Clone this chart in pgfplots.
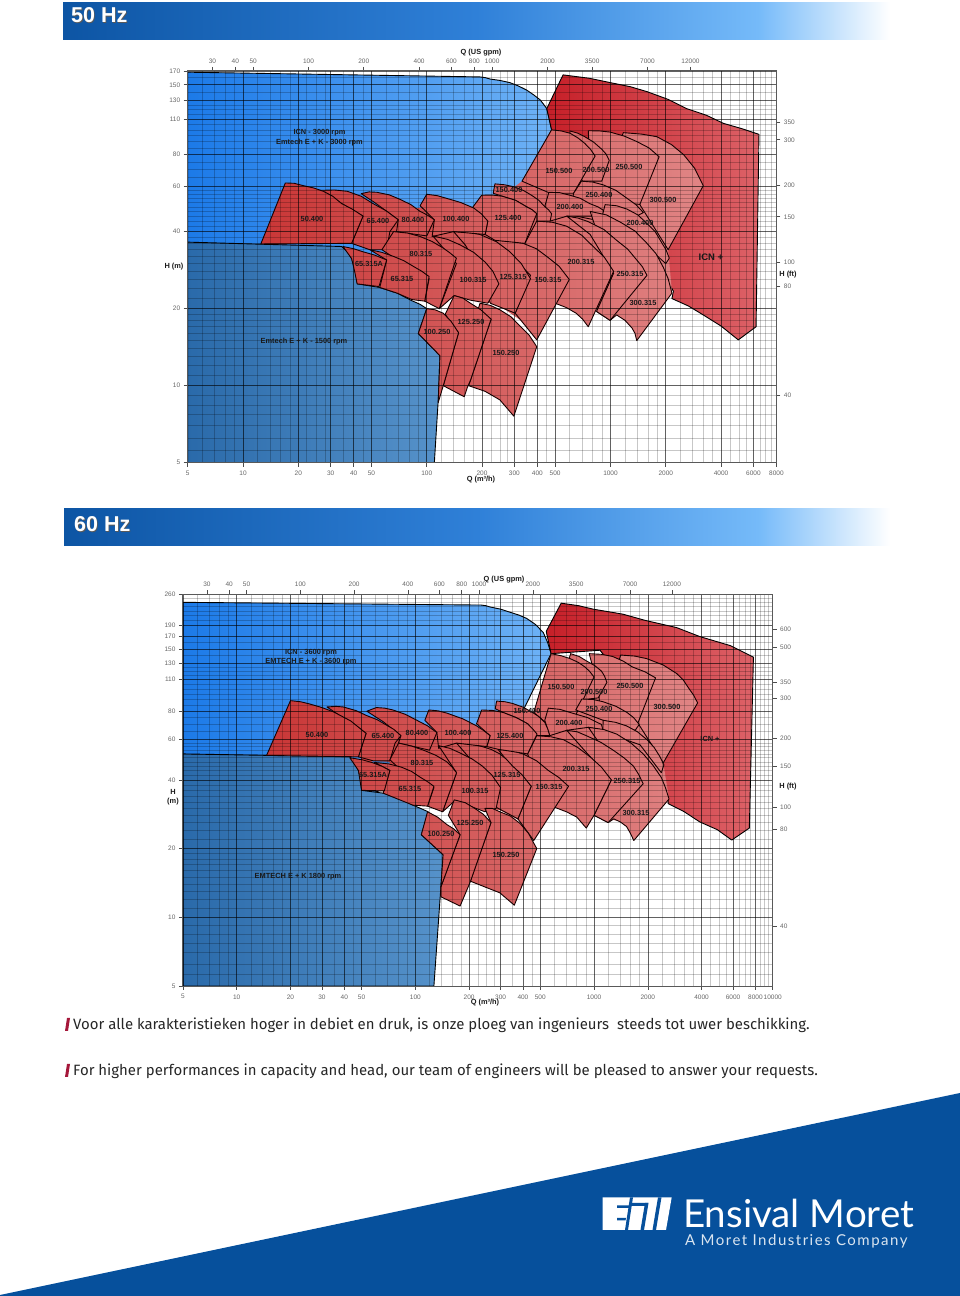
\documentclass[border=0pt]{standalone}
\usepackage{pgfplots}
\pgfplotsset{compat=1.18}
\usepackage{fontspec}
\setmainfont{Liberation Sans}
\newfontfamily\bodyfont{Fira Sans}
\newfontfamily\logofont{Lato}
\newfontfamily\logosub[LetterSpace=10]{Lato}
\definecolor{rD}{HTML}{C93636}
\definecolor{rL}{HTML}{E08585}
\definecolor{bandblue}{HTML}{06509C}
\definecolor{slash}{HTML}{A5173A}
\definecolor{h1}{HTML}{0D55A4}
\definecolor{h2}{HTML}{2F80D8}
\definecolor{h3}{HTML}{75BAF9}
\definecolor{lbA}{RGB}{28,122,232}
\definecolor{lbB}{RGB}{110,178,246}
\definecolor{dbA}{RGB}{42,106,170}
\definecolor{dbB}{RGB}{86,146,202}
\definecolor{icA}{RGB}{198,31,40}
\definecolor{icB}{RGB}{221,98,104}
\pgfdeclarehorizontalshading{hdr}{100bp}{color(0bp)=(h1);color(25bp)=(h1);color(50bp)=(h2);color(67bp)=(h3);color(75bp)=(white);color(100bp)=(white)}
\tikzset{
 myR/.style 2 args={line join=round,draw=black!90!red,line width=.9pt,left color=rL!#1!rD,right color=rL!#2!rD,mark=none},
 myU/.style={draw=none,left color=rL!15!rD,right color=rL!95!rD,mark=none},
 mylight/.style={line join=round,draw=black,line width=.9pt,left color=lbA,right color=lbB,mark=none},
 mydeep/.style={line join=round,draw=black,line width=.9pt,left color=dbA,right color=dbB,mark=none},
 myicn/.style={line join=round,draw=black,line width=.9pt,left color=icA,right color=icB,mark=none},
}
\pgfplotsset{
 mybase/.style={scale only axis,anchor=south west,enlargelimits=false,
  tick align=outside,major tick length=4pt,minor tick length=0pt,
  tick style={black!70,line width=.6pt},
  tick label style={font=\fontsize{6.5}{7}\selectfont,text=black!60},
  axis line style={black!65,line width=.9pt}},
 mychart/.style={mybase,axis on top,
  xmajorgrids=true,ymajorgrids=true,xminorgrids=true,yminorgrids=true,
  major grid style={black,opacity=.62,line width=.6pt},
  minor grid style={black,opacity=.22,line width=.6pt},
  xtick pos=bottom,ytick pos=left,
  xticklabel style={yshift=-1pt}},
 mysecond/.style={mybase,axis x line*=top,axis y line*=right},
}
\begin{document}
\begin{tikzpicture}
\path[use as bounding box] (0,0) rectangle (960pt,1296pt);
% ---------------------------------------------- 50 Hz
\begin{loglogaxis}[mychart,at={(187.7pt,833.3pt)},width=588.7pt,height=391.8pt,
 xmin=5,xmax=8000,ymin=5,ymax=170,
 xtick={5,10,20,30,40,50,100,200,300,400,500,1000,2000,4000,6000,8000},
 xticklabels={5,10,20,30,40,50,100,200,300,400,500,1000,2000,4000,6000,8000},
 minor xtick={6,7,8,9,12,14,16,18,22,25,28,35,45,60,70,80,90,120,140,160,180,225,250,275,350,450,600,700,800,900,1200,1400,1600,1800,2400,2800,3200,3600,4500,5000,5500,6500,7000,7500},
 ytick={5,10,20,40,60,80,110,130,150,170},
 yticklabels={5,10,20,40,60,80,110,130,150,170},
 minor ytick={5.6,6.2,7,7.7,8.4,9.2,11,12,13,14,15,16,17,18,19,22,24,26,28,30,32,34,36,38,42,44,46,48,50,52,54,56,58,65,70,75,85,90,95,100,105,115,120,125,140,160}]
\addplot[mylight] coordinates {(5,168)(195,161)(208,160)(221,158)(250,156)(283,153)(315,148.5)(350,143)(382,137)(414,131)(432,126)(450,121)(465,110)(478,100)(250,37)(38.4,23.7)(5,23.7)} -- cycle;
\addplot[mydeep] coordinates {(5,36.4)(34.4,35)(37,33.4)(39,31.4)(41,28)(41.9,25)(55.5,24.2)(69,23)(82.8,21.5)(92,20.8)(100,20)(90,16)(118,13.1)(115.5,8.8)(110,5)(5,5)} -- cycle;
\addplot[myicn] coordinates {(450,121)(552,164)(770,159)(995,153)(1280,147.5)(1582,141)(2060,131.5)(2600,121)(3330,114)(4120,106)(5200,101)(6430,96)(6200,17)(4960,15.1)(4000,17.1)(3200,18.9)(2650,20.5)(2160,21.9)(2200,23.4)(1650,34)(478,100)} -- cycle;
\addplot[myU] coordinates {(39,36)(45,46)(100,50)(180,49)(258,55)(330,63)(478,100)(1445,60)(2060,34)(2160,23.3)(1390,16)(1080,19.5)(995,19)(840,20)(757,18)(650,20)(500,21.5)(397,15.5)(325,18)(250,20.5)(200,21.5)(141,23)(117,21)(97.5,22)(83,22.5)(56,25)(60,34)(49,35)} -- cycle;
\addplot[myR={82}{100}] coordinates {(1175,97.5)(1480,96.2)(1790,94)(2150,87.5)(2500,80)(2870,70.8)(3200,60.5)(2060,34)(1445,51)(1130,91)} -- cycle;
\addplot[myR={74}{90}] coordinates {(757,99.2)(875,99)(995,98)(1190,94.5)(1390,90)(1620,85)(1840,78.5)(1445,51.1)(875,53)(775,70)} -- cycle;
\addplot[myR={70}{79}] coordinates {(602,99)(665,97)(725,94)(810,89.5)(896,84)(945,80.5)(985,76)(896,63)(705,63)(602,76)} -- cycle;
\addplot[myR={59}{76}] coordinates {(478,100)(540,99)(602,97)(665,93)(725,88.5)(778,84)(825,79)(630,56.5)(470,56.5)(330,63)} -- cycle;
\addplot[myR={70}{87}] coordinates {(695,63)(800,62.5)(910,61)(1070,58)(1230,54)(1375,51)(1510,47.5)(1130,42.5)(602,46.5)(630,56.5)} -- cycle;
\addplot[myR={64}{78}] coordinates {(462,57)(530,56.8)(602,55.5)(685,54)(770,51.5)(855,50)(935,48)(910,46)(580,46)(470,44)(440,50.5)} -- cycle;
\addplot[myR={78}{93}] coordinates {(935,51)(1080,50.5)(1230,49)(1410,46.5)(1580,43)(1750,40)(1910,36)(2005,34)(2090,31.5)(2000,30)(1445,37)(905,46.5)} -- cycle;
\addplot[myR={75}{93}] coordinates {(775,48)(950,46.5)(1130,43.6)(1360,40.2)(1580,36)(1770,32.8)(1940,29)(2060,26.2)(2160,23)(1390,15)(1360,16)(1310,16.8)(1200,18)(1080,18.9)(995,18)(840,19.5)(1040,27.5)(875,37)} -- cycle;
\addplot[myR={70}{88}] coordinates {(578,46)(665,45.2)(755,43.8)(920,40.8)(1080,37)(1240,34.2)(1390,31)(1490,29.2)(1580,27)(995,18)(840,19.5)(1040,27.5)(775,39)} -- cycle;
\addplot[myR={60}{80}] coordinates {(397,44)(485,43.5)(578,42)(695,38.8)(805,35)(925,31.8)(1040,28)(757,17)(705,18.2)(650,19.2)(575,20.2)(500,21)(410,23.7)(342,36)} -- cycle;
\addplot[myR={53}{66}] coordinates {(235,61.5)(265,61)(295,60)(335,58)(372,55.5)(408,53)(440,50)(460,48.7)(478,47)(470,44)(397,44)(397,47)(372,48.8)(350,50)(305,53)(258,55)(230,56.5)} -- cycle;
\addplot[myR={53}{70}] coordinates {(235,37)(285,36.8)(335,36)(395,34.3)(450,32)(525,29.3)(597,26)(397,15.1)(303,19.2)(367,27)(283,32.5)} -- cycle;
\addplot[myR={48}{63}] coordinates {(199,55.5)(228,55.6)(258,55)(305,53)(350,50)(375,48.7)(397,47)(342,36)(235,37)(208,39)(215,44)(175,49)} -- cycle;
\addplot[myR={44}{61}] coordinates {(140,40)(167,39.8)(195,39)(240,36.5)(283,33.4)(327,30)(367,26.2)(303,19.2)(222,21)(195,28.4)(162,35.5)} -- cycle;
\addplot[myR={36}{52}] coordinates {(100,56)(114,55.3)(128,54)(153,52)(180,49.5)(198,47)(215,44)(208,39)(140,40)(107,38.3)(110,44.5)(92,50.5)} -- cycle;
\addplot[myR={39}{54}] coordinates {(108,38.5)(130,37.3)(152,35.5)(180,33.2)(208,30.4)(229,28)(247,25)(215,21)(172,21.6)(141,22.5)(117,20)(145,30)} -- cycle;
\addplot[myR={23}{39}] coordinates {(44,56.3)(48.5,57.2)(53.5,57)(62.5,55.7)(71.5,53.5)(82,51)(92,48)(101,46.4)(110,44.5)(100,38.5)(68.5,40)(70,44.5)(52,52)} -- cycle;
\addplot[myR={13}{31}] coordinates {(26,58)(31.5,58.2)(37,57.5)(44,55)(51,51.5)(60,48.3)(70,44.5)(63,40)(60.5,34)(49,34)(39,36)(45,46)} -- cycle;
\addplot[myR={0}{23}] coordinates {(12.5,35.8)(17,62)(19,61.8)(21.3,60.5)(24.2,59.3)(27.4,57.5)(30.8,55)(34.4,51.5)(39.5,48.9)(45,46)(39,36)} -- cycle;
\addplot[myR={47}{63}] coordinates {(195,21)(222,20.6)(250,19.8)(287,18.6)(325,17)(360,15.8)(397,14.2)(298,7.6)(250,8.8)(208,9.5)(169,10)(224,18.2)(190,19.8)} -- cycle;
\addplot[myR={41}{52}] coordinates {(141,22.5)(157,22)(173,21)(197,19.8)(224,18.2)(173,10.5)(166,9.8)(160,9.05)(123,10)(149,16.1)(126,19)} -- cycle;
\addplot[myR={27}{44}] coordinates {(66,40)(78.5,39.5)(92,38.3)(107,36.6)(123,34.5)(134,33)(145,31.5)(117,20)(97.5,21.4)(103,26.2)(71.5,30.5)(57,34)} -- cycle;
\addplot[myR={25}{38}] coordinates {(49,34)(57,33.2)(66,32)(75,30.8)(85,29.2)(94,28)(103,26.7)(97.5,21.4)(83,21.7)(69,23)(55.5,24.2)(60.5,31)} -- cycle;
\addplot[myR={19}{29}] coordinates {(35,35)(40,34.3)(44.8,33.4)(52,32.4)(60.5,31)(55,24.4)(41.8,25)(40.5,28)(39,31.4)} -- cycle;
\addplot[myR={36}{45}] coordinates {(100,20)(111,19.8)(123,19.2)(136,17.8)(149,16.1)(123,10)(115.5,8.6)(118,13.1)(90,16)} -- cycle;
\end{loglogaxis}
\begin{loglogaxis}[mysecond,at={(187.7pt,833.3pt)},width=588.7pt,height=391.8pt,
 xmin=22.015,xmax=35224,ymin=16.404,ymax=557.7,
 xtick={30,40,50,100,200,400,600,800,1000,2000,3500,7000,12000},
 xticklabels={30,40,50,100,200,400,600,800,1000,2000,3500,7000,12000},
 ytick={30,80,100,150,200,300,350},yticklabels={40,80,100,150,200,300,350},
 minor xtick={},minor ytick={}]
\end{loglogaxis}
% ---------------------------------------------- 60 Hz
\begin{loglogaxis}[mychart,at={(182.9pt,310pt)},width=589.8pt,height=391.6pt,
 xmin=5,xmax=10000,ymin=5,ymax=260,
 xtick={5,10,20,30,40,50,100,200,300,400,500,1000,2000,4000,6000,8000,10000},
 xticklabels={5,10,20,30,40,50,100,200,300,400,500,1000,2000,4000,6000,8000,10000},
 minor xtick={6,7,8,9,12,14,16,18,22,25,28,35,45,60,70,80,90,120,140,160,180,225,250,275,350,450,600,700,800,900,1200,1400,1600,1800,2400,2800,3200,3600,4500,5000,5500,6500,7000,7500,8500,9000,9500},
 ytick={5,10,20,40,60,80,110,130,150,170,190,260},
 yticklabels={5,10,20,40,60,80,110,130,150,170,190,260},
 minor ytick={5.6,6.2,7,7.7,8.4,9.2,11,12,13,14,15,16,17,18,19,22,24,26,28,30,32,34,36,38,42,44,46,48,50,52,54,56,58,65,70,75,85,90,95,100,105,115,120,125,140,160,200,210,220,230,240,250}]
\addplot[mylight] coordinates {(5,240)(233.5,233.5)(248,232)(262,229)(300,224)(340,217)(380,211)(420,204)(470,192)(520,177)(550,160)(575,143)(297,50)(43,33)(5,33)} -- cycle;
\addplot[mydeep] coordinates {(5,52)(43,50.5)(46,47.5)(48,44)(49.5,40)(50,36)(66,35)(81,33.5)(97,31)(107,30)(118,29)(108,23)(143,18.8)(139,13.6)(127,5)(5,5)} -- cycle;
\addplot[myicn] coordinates {(540,179)(655,238)(820,232)(990,224)(1450,213)(1935,200)(2900,186)(3900,170)(5800,155)(7800,138)(7400,24.6)(5900,21.8)(4900,24.2)(3900,26.2)(3200,29)(2600,31.5)(2600,32.5)(1800,90)(1080,148)(575,143)} -- cycle;
\addplot[myU] coordinates {(48,44)(53,64)(120,65)(220,65)(310,70)(460,79)(575,143)(1760,71)(2440,47.5)(2630,33)(1670,22.5)(1500,26)(1200,27)(1000,29)(905,25.5)(800,28.5)(605,31)(460,22.5)(385,26.5)(297,29.5)(245,30)(165,33)(142,30)(117,31.5)(97,32)(66,35.5)(72,48)(58,48.5)} -- cycle;
\addplot[myR={82}{100}] coordinates {(1410,141)(1690,139.5)(1970,136)(2440,127.5)(2900,117)(3160,109.5)(3400,100.5)(3610,94)(3800,87)(2440,47.5)(1760,71)(1390,89)(1320,120)} -- cycle;
\addplot[myR={74}{90}] coordinates {(940,143)(1105,142)(1270,139)(1460,132.5)(1640,125)(1930,119)(2210,112)(1760,71)(1080,82)(1060,99)} -- cycle;
\addplot[myR={70}{79}] coordinates {(740,143)(825,139)(905,133)(1005,127)(1100,120)(1145,114)(1180,107)(1055,91.5)(785,89)(690,120)} -- cycle;
\addplot[myR={59}{76}] coordinates {(575,143)(655,140)(735,136)(815,131)(890,125)(945,119.5)(1000,113)(790,77)(565,69)(460,79)} -- cycle;
\addplot[myR={70}{87}] coordinates {(855,90.5)(990,90)(1125,88)(1330,84)(1530,79)(1665,75)(1790,70)(1700,66)(1125,73)(790,81)} -- cycle;
\addplot[myR={64}{78}] coordinates {(555,82.5)(645,81.5)(735,79)(920,75)(1100,70)(1125,66)(930,68)(703,66)(565,62.5)(530,73)} -- cycle;
\addplot[myR={78}{93}] coordinates {(1125,73)(1320,71.5)(1520,69)(1750,65)(1980,60)(2170,55.5)(2340,50.5)(2400,48.5)(2460,46.5)(2380,43)(1810,57)(1120,65)} -- cycle;
\addplot[myR={75}{93}] coordinates {(930,68)(1135,66.5)(1340,63.5)(1610,58)(1885,52)(2130,46.5)(2380,41)(2510,37)(2630,33)(1670,21.7)(1595,23.4)(1520,25)(1400,26.2)(1290,27)(1200,26)(1000,28)(1250,40)(1085,57)} -- cycle;
\addplot[myR={70}{88}] coordinates {(703,66)(805,65)(905,62.5)(1090,58.5)(1280,54)(1470,50)(1660,46)(1770,42.5)(1885,38.5)(1200,26)(1000,28)(1250,40)(985,49)} -- cycle;
\addplot[myR={60}{80}] coordinates {(478,62.5)(575,61.8)(675,60)(810,55.5)(950,50.5)(1100,45.5)(1250,40)(1000,28)(905,24.6)(800,27.5)(700,29)(605,30.3)(500,36)(425,52)} -- cycle;
\addplot[myR={53}{66}] coordinates {(285,88.6)(318,88)(350,86.5)(398,83.5)(447,79.5)(488,76)(530,71.5)(550,67)(565,62.5)(478,62.5)(425,70.5)(367,75)(310,79)(280,82)} -- cycle;
\addplot[myR={53}{70}] coordinates {(290,54.5)(345,53.8)(400,52)(477,48.5)(555,44)(635,41)(720,37.5)(605,30.3)(460,21.7)(375,27)(445,37.5)(360,44)} -- cycle;
\addplot[myR={48}{63}] coordinates {(235,81)(272,80.6)(310,79)(367,75)(425,70.5)(453,67)(480,63.5)(425,52)(290,54.5)(251,56)(262,62.5)(220,70.5)} -- cycle;
\addplot[myR={44}{61}] coordinates {(170,58)(203,57.5)(237,56)(267,54.3)(297,52)(323,49.3)(350,46)(397,42)(445,37.5)(375,27)(280,30.5)(262,42)(205,49)} -- cycle;
\addplot[myR={36}{52}] coordinates {(119,81)(134,80.3)(150,78.5)(185,74)(220,69)(240,66)(262,62.5)(251,56)(205,57)(170,58)(135,55)(132,64.5)(113,73)} -- cycle;
\addplot[myR={39}{54}] coordinates {(135,56.5)(156,55)(178,52.5)(207,49.5)(237,46)(268,42)(300,37)(283,30)(245,29)(167,32.5)(142,29)(170,43)} -- cycle;
\addplot[myR={23}{39}] coordinates {(53.5,80)(60.5,83)(67.5,82.5)(75,81)(88,77.5)(102,73)(117,69)(132,64.5)(120,54)(80.5,58)(83,62.5)(66,72)} -- cycle;
\addplot[myR={13}{31}] coordinates {(32,83.5)(36,84)(39.5,83.5)(46.5,80.5)(53.5,76.5)(61,73.5)(69,69.5)(76,66.5)(83,62.5)(77,58)(72,48.5)(58,48.5)(48,50.5)(53,64)} -- cycle;
\addplot[myR={0}{23}] coordinates {(14.7,51.2)(20,89)(22.8,88)(25.7,86)(30,83)(34.8,79.5)(43.5,72.5)(53,64)(48,50.5)} -- cycle;
\addplot[myR={47}{63}] coordinates {(245,30)(270,30)(297,29)(340,27.8)(385,25.8)(430,23.3)(478,20)(358,11.3)(297,12.8)(203,14.4)(265,26)} -- cycle;
\addplot[myR={41}{52}] coordinates {(165,32.7)(190,31.8)(215,30)(240,28.3)(265,26)(203,14.3)(178,11.2)(139,12.3)(139,13.6)(178,23)(153,28)} -- cycle;
\addplot[myR={27}{44}] coordinates {(80.5,58)(95,56.3)(111,54)(130,51.3)(150,48)(160,45.7)(170,43)(142,29)(117,30.7)(127,37)(83.5,44)(72,49)} -- cycle;
\addplot[myR={25}{38}] coordinates {(59,47.7)(71,47)(83.5,45.5)(95,43.6)(107,41)(117,39.3)(127,37.5)(117,30.7)(97,31)(66,35)(72,44)} -- cycle;
\addplot[myR={19}{29}] coordinates {(43,50)(50.5,49)(58,47.5)(65,45.9)(72,44)(67,35.8)(50,36)(48,44)} -- cycle;
\addplot[myR={36}{45}] coordinates {(117,29)(133,27.5)(150,25.5)(164,24.4)(178,23)(139,13.6)(143,18.8)(108,23)} -- cycle;
\end{loglogaxis}
\begin{loglogaxis}[mysecond,at={(182.9pt,310pt)},width=589.8pt,height=391.6pt,
 xmin=22.015,xmax=44030,ymin=16.404,ymax=853,
 xtick={30,40,50,100,200,400,600,800,1000,2000,3500,7000,12000},
 xticklabels={30,40,50,100,200,400,600,800,1000,2000,3500,7000,12000},
 ytick={30,80,100,150,200,300,350,500,600},yticklabels={40,80,100,150,200,300,350,500,600},
 minor xtick={},minor ytick={}]
\end{loglogaxis}
% ---------------------------------------------- page furniture, in reference pixels
\begin{scope}[x=1pt,y=-1pt,shift={(0pt,1296pt)}]
\shade[shading=hdr] (63,3) rectangle (890,40);
\shade[shading=hdr] (64,509) rectangle (890,546);
\tikzset{HZ/.style={anchor=west,inner sep=0pt,font=\bfseries\fontsize{21.5}{24}\selectfont}}
\node[HZ,text=black!65] at (71.8,16) {50 Hz};
\node[HZ,text=white] at (71,15.2) {50 Hz};
\node[HZ,text=black!65] at (74.8,525) {60 Hz};
\node[HZ,text=white] at (74,524.2) {60 Hz};
% bold labels
\tikzset{L/.style={font=\bfseries\fontsize{7.4}{9}\selectfont,text=black!90,inner sep=0pt}}
\foreach \x/\y/\t in {312/219/50.400,378/221/65.400,413/220/80.400,456/219/100.400,508/218/125.400,509/190/150.400,559/171/150.500,596/170/200.500,629/167/250.500,663/200/300.500,599/195/250.400,570/207/200.400,640/223/200.400,581/262/200.315,630/274/250.315,643/303/300.315,548/280/150.315,513/277/125.315,473/280/100.315,421/254/80.315,402/279/65.315,369/264/65.315A,471/322/125.250,437/332/100.250,506/353/150.250,
 317/735/50.400,383/736/65.400,417/733/80.400,458/733/100.400,510/736/125.400,527/711/150.400,561/687/150.500,594/692/200.500,630/686/250.500,667/707/300.500,599/709/250.400,569/723/200.400,576/769/200.315,627/781/250.315,636/813/300.315,549/787/150.315,507/775/125.315,475/791/100.315,422/763/80.315,410/789/65.315,373/775/65.315A,470/823/125.250,441/834/100.250,506/855/150.250}
 {\node[L] at (\x,\y) {\t};}
\node[L] at (319.5,133) {ICN - 3000 rpm};
\node[L] at (319.5,142.5) {Emtech E + K - 3000 rpm};
\node[L] at (304,342) {Emtech E + K - 1500 rpm};
\node[L,font=\bfseries\fontsize{9.5}{11}\selectfont] at (711,257) {ICN +};
\node[L] at (311,653) {ICN  - 3600 rpm};
\node[L] at (311,662) {EMTECH E + K - 3600 rpm};
\node[L] at (298,877) {EMTECH E + K 1800 rpm};
\node[L] at (710,739) {ICN +};
\node[L] at (481,53) {Q (US gpm)};
\node[L] at (481,480) {Q (m³/h)};
\node[L] at (174,267) {H (m)};
\node[L] at (788,275) {H (ft)};
\node[L] at (504,580) {Q (US gpm)};
\node[L] at (485,1003) {Q (m³/h)};
\node[L,align=center] at (173,797) {H\\(m)};
\node[L] at (788,787) {H (ft)};
% text
\fill[slash] (65,1031) -- (67,1018) -- (70,1018) -- (68,1031) -- cycle;
\fill[slash] (65,1077) -- (67,1064) -- (70,1064) -- (68,1077) -- cycle;
\node[anchor=west,inner sep=0pt,font=\bodyfont\fontsize{14.95}{16}\selectfont,text=black!85] at (73,1025) {Voor alle karakteristieken hoger in debiet en druk, is onze ploeg van ingenieurs\ \ steeds tot uwer beschikking.};
\node[anchor=west,inner sep=0pt,font=\bodyfont\fontsize{14.95}{16}\selectfont,text=black!85] at (73,1071) {For higher performances in capacity and head, our team of engineers will be pleased to answer your requests.};
% band and logo
\fill[bandblue] (0,1295) -- (960,1093) -- (960,1296) -- (0,1296) -- cycle;
\fill[white] (602.7,1197.3) -- (671.7,1197.3) -- (666,1230) -- (602.7,1230) -- cycle;
\fill[bandblue] (617,1205.5) -- (630,1205.5) -- (629.5,1208) -- (617,1208) -- cycle;
\fill[bandblue] (617,1218) -- (626,1218) -- (625.5,1220.5) -- (617,1220.5) -- cycle;
\fill[bandblue] (630,1197.3) -- (633,1197.3) -- (628,1230) -- (625,1230) -- cycle;
\fill[bandblue] (645,1203) -- (648.5,1203) -- (644,1230) -- (640.5,1230) -- cycle;
\fill[bandblue] (631,1203) -- (648,1203) -- (647.5,1206) -- (630.5,1206) -- cycle;
\fill[bandblue] (658,1197.3) -- (661.5,1197.3) -- (656,1230) -- (652.5,1230) -- cycle;
\node[anchor=west,inner sep=0pt,font=\logofont\fontsize{38.5}{40}\selectfont,text=white] at (683,1213) {Ensival Moret};
\node[anchor=west,inner sep=0pt,font=\logosub\fontsize{15}{17}\selectfont,text=white!85!bandblue] at (685,1241) {A Moret Industries Company};
\end{scope}
\end{tikzpicture}
\end{document}
